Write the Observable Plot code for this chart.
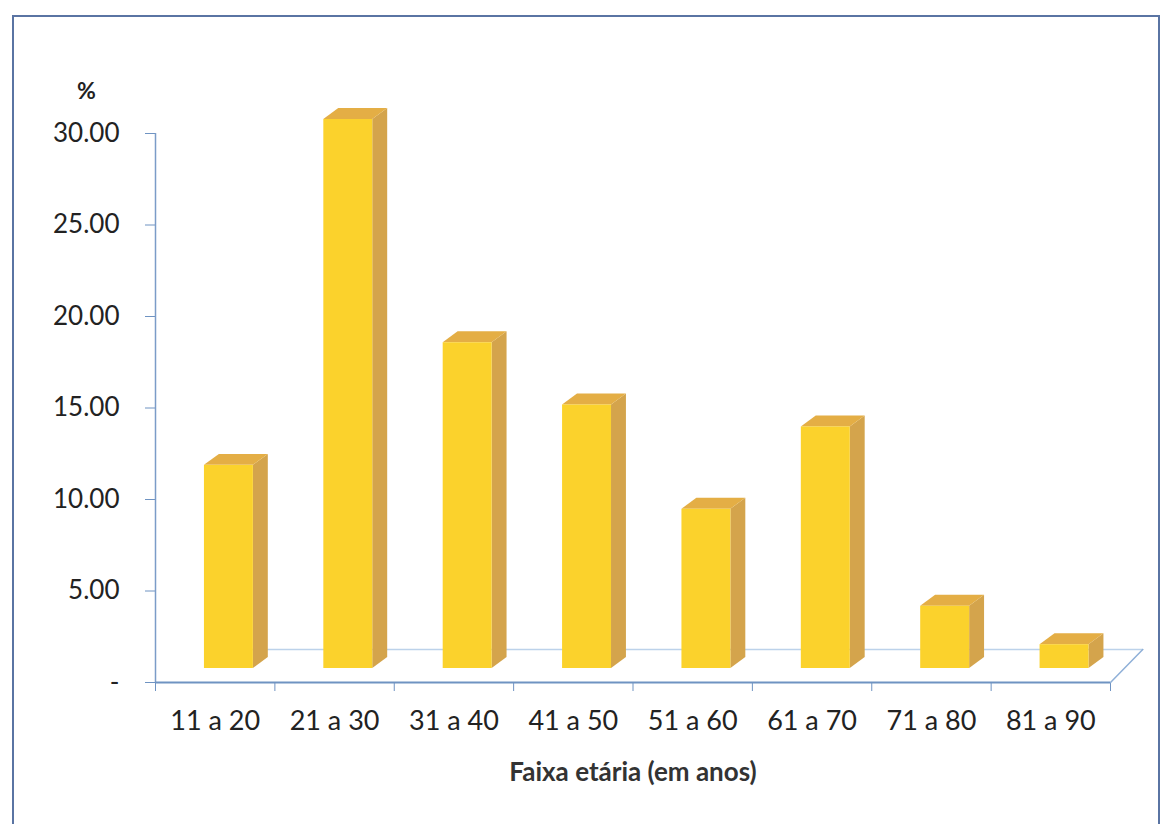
<!DOCTYPE html>
<html>
<head>
<meta charset="utf-8">
<script src="https://cdn.jsdelivr.net/npm/d3@7"></script>
<script src="https://cdn.jsdelivr.net/npm/@observablehq/plot@0.6"></script>
<style>
  body { margin: 0; background: #ffffff; }
  #wrap { position: relative; width: 1162px; height: 824px; overflow: hidden; font-family: Lato, "Open Sans", sans-serif; }
  #frame { position: absolute; left: 12px; top: 15px; width: 1144px; height: 840px; border: 2px solid #5a74a3; border-bottom: none; }
  #pct { position: absolute; left: 77px; top: 76px; font-size: 23px; font-weight: 700; color: #222; }
  #xtitle { position: absolute; left: 0; width: 1266px; top: 755px; text-align: center; font-size: 26px; font-weight: 700; color: #333; }
  #chart { position: absolute; left: 0; top: 0; }
  #chart g[aria-label^="y-axis"] text, #chart g[aria-label^="x-axis"] text { fill: #222; }
</style>
</head>
<body>
<div id="wrap">
  <div id="frame"></div>
  <div id="chart"></div>
  <div id="pct">%</div>
  <div id="xtitle">Faixa etária (em anos)</div>
</div>
<script>
// Age groups and share of cases (%)
const ageGroups = ["11 a 20", "21 a 30", "31 a 40", "41 a 50", "51 a 60", "61 a 70", "71 a 80", "81 a 90"];
const percents = [11.1, 30.0, 17.8, 14.4, 8.7, 13.2, 3.4, 1.3];
const yTicks = [0, 5, 10, 15, 20, 25, 30];

// 3D look: column placement inside each category slot and the extrusion depth
const barLeft = 0.41, barRight = 0.82;   // fraction of the category slot
const depthX = 0.125, depthY = 0.6;      // extrusion, in x-slot and % units
const floorX = 0.27, floorY = 1.8;       // floor depth
const lift = -14;                        // columns stand back from the front floor edge (px)

const rows = ageGroups.map((g, i) => ({group: g, i, v: percents[i]}));

const frontFaces = rows.map(d => ({x1: d.i + barLeft, x2: d.i + barRight, y1: 0, y2: d.v}));
const sideFaces = rows.flatMap(d => [
  {z: d.i, x: d.i + barRight, y1: 0, y2: d.v},
  {z: d.i, x: d.i + barRight + depthX, y1: depthY, y2: d.v + depthY}
]);
const topFaces = rows.flatMap(d => [
  {z: d.i, x: d.i + barLeft, y1: d.v, y2: d.v},
  {z: d.i, x: d.i + barLeft + depthX, y1: d.v, y2: d.v + depthY},
  {z: d.i, x: d.i + barRight, y1: d.v, y2: d.v + depthY},
  {z: d.i, x: d.i + barRight + depthX, y1: d.v + depthY, y2: d.v + depthY}
]);

const n = ageGroups.length;
const boundaries = d3.range(n + 1);
const floorEdge = [{x: n, y: 0}, {x: n + floorX, y: floorY}];
const floorBack = [{x: floorX + 0.5, y: floorY}, {x: n + floorX, y: floorY}];

const chart = Plot.plot({
  width: 1162,
  height: 824,
  marginLeft: 155,
  marginRight: 52,
  marginTop: 133,
  marginBottom: 142,
  style: {fontFamily: "Lato, 'Open Sans', sans-serif", fontSize: "26px", color: "#6f93c2", background: "transparent", overflow: "visible"},
  x: {domain: [0, n], ticks: boundaries, tickFormat: () => "", tickSize: 9, label: null},
  y: {domain: [0, 30], ticks: yTicks, tickFormat: d => d === 0 ? "-" : d.toFixed(2), tickSize: 10, tickPadding: 26, label: null},
  marks: [
    Plot.line(floorBack, {x: "x", y: "y", stroke: "#bcd2ea", strokeWidth: 1.5}),
    Plot.line(floorEdge, {x: "x", y: "y", stroke: "#8fb0d8", strokeWidth: 1.5}),
    Plot.ruleX([0], {stroke: "#7b9cc8", strokeWidth: 1.5}),
    Plot.ruleY([0], {stroke: "#6f93c2", strokeWidth: 2}),
    Plot.areaY(sideFaces, {x: "x", y1: "y1", y2: "y2", z: "z", fill: "#d4a44c", dy: lift}),
    Plot.areaY(topFaces, {x: "x", y1: "y1", y2: "y2", z: "z", fill: "#e4ae45", dy: lift}),
    Plot.rect(frontFaces, {x1: "x1", x2: "x2", y1: "y1", y2: "y2", fill: "#fbd22c", dy: lift}),
    Plot.text(rows, {x: d => d.i + 0.5, y: 0, text: "group", dy: 39, fill: "#222", fontSize: 27})
  ]
});
document.getElementById("chart").appendChild(chart);
</script>
</body>
</html>
